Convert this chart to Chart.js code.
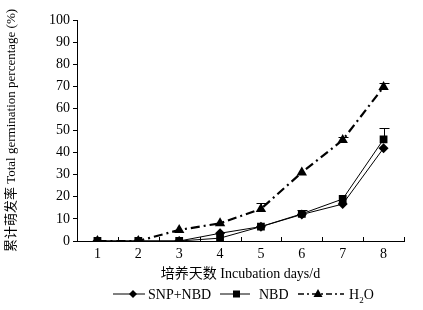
<!DOCTYPE html>
<html>
<head>
<meta charset="utf-8">
<script src="https://cdn.jsdelivr.net/npm/chart.js@4.4.0/dist/chart.umd.min.js"></script>
<style>
  body { margin: 0; background: #fff; }
  #wrap { position: relative; width: 423px; height: 310px; }
  #legend { position: absolute; left: 0; top: 286px; width: 423px; height: 18px;
    font-family: "Liberation Serif", serif; font-size: 14px; color: #000; white-space: nowrap; }
  #legend span { position: absolute; top: 0; line-height: 16px; }
  #legend svg { vertical-align: -3px; margin-right: 3px; }
</style>
</head>
<body>
<div id="wrap">
  <canvas id="germChart" width="423" height="310"></canvas>
  <div id="legend"></div>
</div>
<script>
// Incubation days and cumulative germination (%)
const days = ["1", "2", "3", "4", "5", "6", "7", "8"];
const snpNbd = [0, 0, 0, 3.5, 6.5, 12, 16.7, 42];
const nbd = [0, 0, 0, 1.3, 6.5, 12.3, 19, 46];
const h2o = [0, 0, 5, 8, 14.5, 31, 45.7, 69.7];
// upper error (SD) for each point
const snpNbdErr = [0, 0, 0, 0, 0, 0, 0, 0];
const nbdErr = [0, 0, 0, 0, 0, 1.7, 0, 5];
const h2oErr = [0, 0, 0, 0, 2.5, 0, 1.3, 1.8];
const yTicks = [0, 10, 20, 30, 40, 50, 60, 70, 80, 90, 100];

const serif = '"Liberation Serif", "Times New Roman", serif';
const titleFont = '"Liberation Serif", "Noto Sans CJK SC", serif';

// error bars (upward only, with cap) + inward x ticks
const extras = {
  id: 'extras',
  afterDatasetsDraw(chart) {
    const ctx = chart.ctx;
    const y = chart.scales.y;
    const x = chart.scales.x;
    ctx.save();
    ctx.strokeStyle = '#000';
    ctx.lineWidth = 1;
    chart.data.datasets.forEach((ds) => {
      ds.errs.forEach((e, i) => {
        if (!e) return;
        const px = Math.round(x.getPixelForValue(i)) + 0.5;
        const p0 = y.getPixelForValue(ds.data[i]);
        const p1 = Math.round(y.getPixelForValue(ds.data[i] + e)) + 0.5;
        ctx.beginPath();
        ctx.moveTo(px, p0);
        ctx.lineTo(px, p1);
        ctx.moveTo(px - 5, p1);
        ctx.lineTo(px + 5, p1);
        ctx.stroke();
      });
    });
    const a = chart.chartArea;
    const w = (a.right - a.left) / days.length;
    for (let i = 0; i <= days.length; i++) {
      const px = Math.round(a.left + i * w) + 0.5;
      ctx.beginPath();
      ctx.moveTo(px, a.bottom);
      ctx.lineTo(px, a.bottom - 4);
      ctx.stroke();
    }
    ctx.restore();
  }
};

const ctx = document.getElementById('germChart').getContext('2d');
const chart = new Chart(ctx, {
  type: 'line',
  data: {
    labels: days,
    datasets: [
      {
        label: 'SNP+NBD', data: snpNbd, errs: snpNbdErr,
        borderColor: '#000', borderWidth: 1, backgroundColor: '#000',
        pointStyle: 'rectRot', pointRadius: 5, pointBackgroundColor: '#000', pointBorderWidth: 0,
        tension: 0
      },
      {
        label: 'NBD', data: nbd, errs: nbdErr,
        borderColor: '#000', borderWidth: 1, backgroundColor: '#000',
        pointStyle: 'rect', pointRadius: 5.5, pointBackgroundColor: '#000', pointBorderWidth: 0,
        tension: 0
      },
      {
        label: 'H2O', data: h2o, errs: h2oErr,
        borderColor: '#000', borderWidth: 2.2, borderDash: [9, 4, 2, 4], backgroundColor: '#000',
        pointStyle: 'triangle', pointRadius: 6, pointBackgroundColor: '#000', pointBorderWidth: 0,
        tension: 0
      }
    ]
  },
  options: {
    responsive: false,
    animation: false,
    layout: { padding: { top: 20, right: 19, bottom: 25, left: 4 } },
    plugins: {
      legend: { display: false },
      tooltip: { enabled: false }
    },
    scales: {
      x: {
        offset: true,
        afterFit(s) { s.height = 44; },
        grid: { display: false, drawTicks: false },
        border: { color: '#000', width: 1 },
        ticks: { color: '#000', font: { family: serif, size: 14 }, padding: 5 },
        title: {
          display: true, text: '培养天数 Incubation days/d', color: '#000',
          font: { family: titleFont, size: 14 }, padding: { top: 2, bottom: 2 }
        }
      },
      y: {
        min: 0, max: 100,
        afterFit(s) { s.width = 73; },
        afterBuildTicks(s) { s.ticks = yTicks.map(v => ({ value: v })); },
        grid: { drawOnChartArea: false, tickLength: 4, color: '#000' },
        border: { color: '#000', width: 1 },
        ticks: { color: '#000', font: { family: serif, size: 14 }, padding: 3 },
        title: {
          display: true, text: '累计萌发率 Total germination percentage (%)', color: '#000',
          font: { family: titleFont, size: 13 }, padding: { top: 0, bottom: 4 }
        }
      }
    }
  },
  plugins: [extras]
});

// legend with line + marker samples
const marks = {
  'SNP+NBD': { w: 32, svg: '<line x1="0" y1="8" x2="32" y2="8" stroke="#000" stroke-width="1"/><polygon points="20,4 24,8 20,12 16,8" fill="#000"/>' },
  'NBD': { w: 36, svg: '<line x1="0" y1="8" x2="30" y2="8" stroke="#000" stroke-width="1"/><rect x="13" y="4.5" width="7" height="7" fill="#000"/>' },
  'H2O': { w: 48, svg: '<line x1="0" y1="8" x2="46" y2="8" stroke="#000" stroke-width="1.5" stroke-dasharray="6,3,2,3"/><polygon points="20,3 24.5,11 15.5,11" fill="#000"/>' }
};
const lefts = { 'SNP+NBD': 113, 'NBD': 220, 'H2O': 298 };
const names = { 'SNP+NBD': 'SNP+NBD', 'NBD': 'NBD', 'H2O': 'H<sub style="font-size:9px;line-height:0">2</sub>O' };
document.getElementById('legend').innerHTML = chart.data.datasets.map(ds =>
  '<span style="left:' + lefts[ds.label] + 'px"><svg width="' + marks[ds.label].w + '" height="16">' +
  marks[ds.label].svg + '</svg>' + names[ds.label] + '</span>'
).join('');
</script>
</body>
</html>
